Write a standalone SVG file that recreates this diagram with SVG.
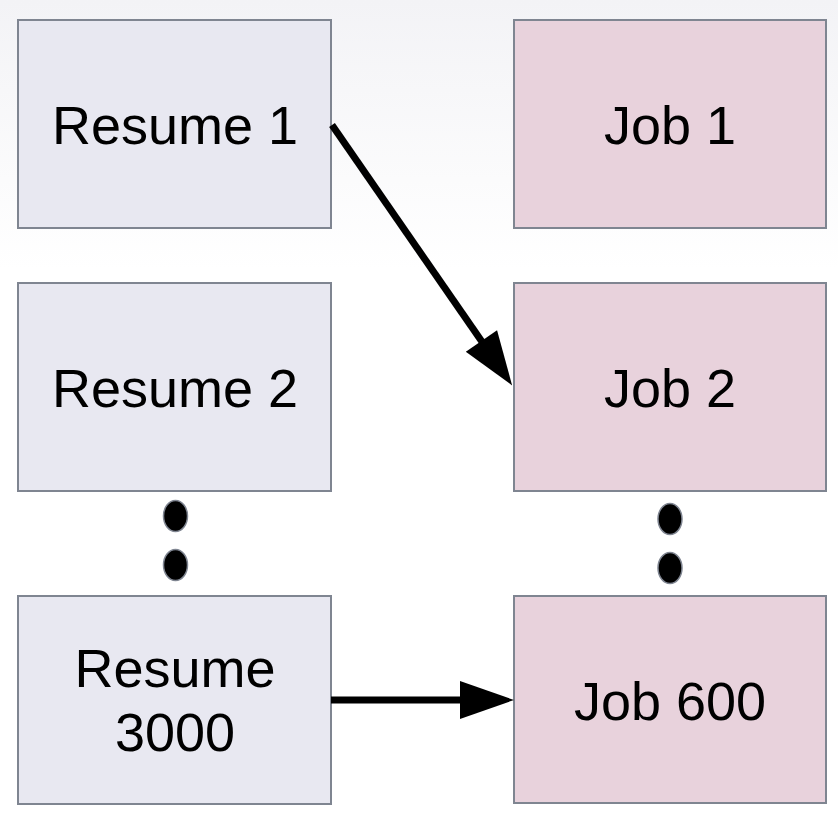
<svg xmlns="http://www.w3.org/2000/svg" width="838" height="814" viewBox="0 0 838 814">
  <defs>
    <linearGradient id="bg" x1="0" y1="0" x2="0" y2="1">
      <stop offset="0" stop-color="#f3f3f6"/>
      <stop offset="1" stop-color="#ffffff"/>
    </linearGradient>
    <marker id="arrow" markerUnits="userSpaceOnUse" markerWidth="56" markerHeight="40" refX="1" refY="19" orient="auto" overflow="visible">
      <path d="M0,0 L54,19 L0,38 Z" fill="#000"/>
    </marker>
    <style>
      .resume rect { fill: #e8e8f1; stroke: #7f8591; stroke-width: 2; }
      .job rect { fill: #e8d2dc; stroke: #7f8591; stroke-width: 2; }
      text { font-family: "Liberation Sans", Arial, sans-serif; font-size: 54px; fill: #000; text-anchor: middle; }
      .dot { fill: #000; stroke: #7f8591; stroke-width: 1.5; }
      .conn { stroke: #000; stroke-width: 7; fill: none; marker-end: url(#arrow); }
    </style>
  </defs>
  <rect x="0" y="0" width="838" height="270" fill="url(#bg)"/>
  <rect x="0" y="270" width="838" height="544" fill="#fff"/>

  <g id="resume1" class="resume"><rect x="18" y="20" width="313" height="208"/><text x="175" y="144">Resume 1</text></g>
  <g id="resume2" class="resume"><rect x="18" y="283" width="313" height="208"/><text x="175" y="407">Resume 2</text></g>
  <g id="resume3000" class="resume"><rect x="18" y="596" width="313" height="208"/><text x="175" y="687">Resume</text><text x="175" y="751">3000</text></g>

  <g id="job1" class="job"><rect x="514" y="20" width="312" height="208"/><text x="670" y="144">Job 1</text></g>
  <g id="job2" class="job"><rect x="514" y="283" width="312" height="208"/><text x="670" y="407">Job 2</text></g>
  <g id="job600" class="job"><rect x="514" y="596" width="312" height="207"/><text x="670" y="720">Job 600</text></g>

  <g id="ellipsis-left">
    <ellipse class="dot" cx="175.5" cy="516" rx="12" ry="15.5"/>
    <ellipse class="dot" cx="175.5" cy="565" rx="12" ry="15.5"/>
  </g>
  <g id="ellipsis-right">
    <ellipse class="dot" cx="670" cy="519" rx="12" ry="15.5"/>
    <ellipse class="dot" cx="670" cy="568" rx="12" ry="15.5"/>
  </g>

  <g id="connectors">
    <path class="conn" d="M332,125 L482,341.8"/>
    <path class="conn" d="M331,700 L461,700"/>
  </g>
</svg>
